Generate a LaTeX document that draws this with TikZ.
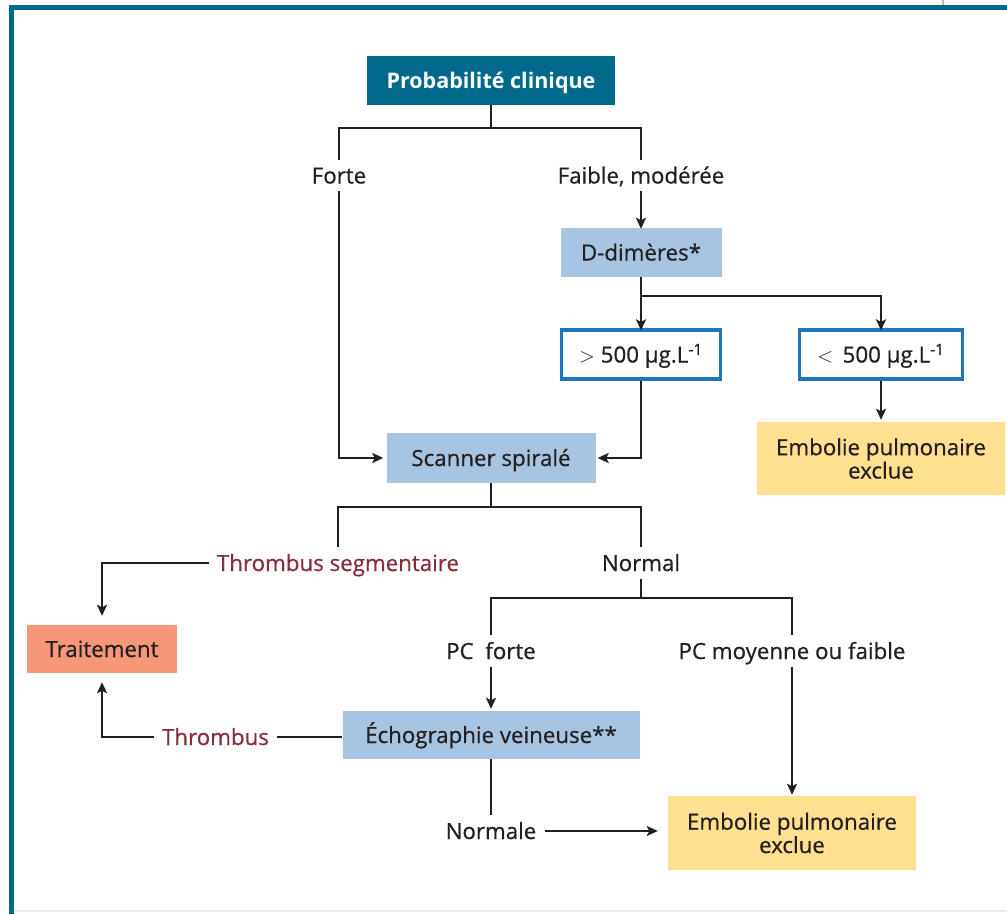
\documentclass[tikz,border=0pt]{standalone}
\usepackage{fontspec}
\setmainfont{Open Sans}
\newfontface\medface{Open Sans}[FakeBold=0.6]
\usetikzlibrary{arrows.meta}

\definecolor{frameteal}{HTML}{00698C}
\definecolor{headteal}{HTML}{00698C}
\definecolor{stepblue}{HTML}{A7C5E2}
\definecolor{resultyellow}{HTML}{FEE090}
\definecolor{treatsalmon}{HTML}{F7977A}
\definecolor{rangeblue}{HTML}{1D76BB}
\definecolor{alertred}{HTML}{862D3C}
\definecolor{ink}{HTML}{231F20}
\definecolor{tanline}{HTML}{C8BFA0}

\tikzset{
  base/.style={font=\fontsize{22.3}{24}\selectfont\medface, text=ink, inner sep=0pt,
               text height=16pt, text depth=0pt},
  head/.style={base, fill=headteal, text=white, font=\fontsize{21.5}{24}\selectfont\bfseries},
  stepbox/.style={base, fill=stepblue},
  rangebox/.style={base, fill=white, draw=rangeblue, line width=3.3pt},
  resultbox/.style={font=\fontsize{22.3}{20.5}\selectfont\medface, text=ink, inner sep=0pt,
               fill=resultyellow, align=center},
  treatbox/.style={base, fill=treatsalmon},
  lbl/.style={base, inner xsep=8pt, inner ysep=7.5pt},
  redlbl/.style={lbl, text=alertred},
  link/.style={draw=ink, line width=2.7pt},
  arr/.style={link, -{Stealth[length=11pt,width=10pt,inset=2.5pt]}},
}

\begin{document}
\begin{tikzpicture}[x=1pt, y=-1pt]
\useasboundingbox (0,0) rectangle (1007,914);

% frame
\fill[frameteal] (9,5) rectangle (1007,10);
\fill[frameteal] (9,5) rectangle (13.5,914);
\draw[black!8, line width=1.2pt] (13.5,911) -- (1007,911);
\draw[tanline, line width=1.2pt] (943,0) -- (943,5);

% boxes
\node[head, minimum width=248pt, minimum height=49pt] (prob) at (491,80) {Probabilité clinique};
\node[stepbox, minimum width=161pt, minimum height=49pt] (ddim) at (641,252.5) {D-dimères*};
\node[rangebox, minimum width=159pt, minimum height=49pt] (gt) at (641,354.5)
  {$>$ 500 µg.L\textsuperscript{-1}};
\node[rangebox, minimum width=163pt, minimum height=49pt] (lt) at (881,354.5)
  {$<$\, 500 µg.L\textsuperscript{-1}};
\node[resultbox, minimum width=248pt, minimum height=73pt] (emb1) at (881,458.5)
  {Embolie pulmonaire\\exclue};
\node[stepbox, minimum width=209pt, minimum height=50pt] (scan) at (491,458) {Scanner spiralé};
\node[treatbox, minimum width=150pt, minimum height=48pt] (trait) at (102,649) {Traitement};
\node[stepbox, minimum width=297pt, minimum height=48pt] (echo) at (491,735) {Échographie veineuse**};
\node[resultbox, minimum width=248pt, minimum height=74pt] (emb2) at (792,833)
  {Embolie pulmonaire\\exclue};

% branch labels
\node[lbl] (forte) at (339,175.5) {Forte};
\node[lbl] (faible) at (641,175.5) {Faible, modérée};
\node[redlbl] (thseg) at (338,563) {Thrombus segmentaire};
\node[lbl] (normal) at (641,563) {Normal};
\node[lbl] (pcf) at (491,651) {PC\ \ forte};
\node[lbl] (pcm) at (792,651) {PC moyenne ou faible};
\node[redlbl] (thromb) at (215.5,737) {Thrombus};
\node[lbl] (normale) at (491,831) {Normale};

% junctions
\coordinate (j1) at (491,128);
\coordinate (j2) at (641,296);
\coordinate (j3) at (491,507);
\coordinate (j4) at (641,598);

% connectors
\draw[link] (prob.south) -- (j1);
\draw[link] (forte.north) |- (j1) -| (faible.north);
\draw[arr] (forte.south) |- ([xshift=-3pt]scan.west);
\draw[arr] (faible.south) -- ([yshift=-1pt]ddim.north);

\draw[link] (ddim.south) -- (j2);
\draw[arr] (j2) -- ([yshift=-2pt]gt.north);
\draw[arr] (j2) -| ([yshift=-2pt]lt.north);
\draw[arr] (gt.south) |- ([xshift=2pt]scan.east);
\draw[arr, shorten >=2pt] (lt.south) -- (emb1.north);

\draw[link] (scan.south) -- (j3);
\draw[link] (thseg.north) |- (j3) -| (normal.north);
\draw[arr, shorten >=9pt] (thseg.west) -| (trait.north);

\draw[link] (normal.south) -- (j4);
\draw[link] (pcf.north) |- (j4) -| (pcm.north);
\draw[arr, shorten >=2pt] (pcf.south) -- (echo.north);
\draw[arr, shorten >=1pt] (pcm.south) -- (emb2.north);

\draw[link] (thromb.east) -- (thromb.east -| echo.west);
\draw[arr, shorten >=9pt] (thromb.west) -| (trait.south);
\draw[link] (echo.south) -- (normale.north);
\draw[arr, shorten >=10pt] (normale.east) -- (normale.east -| emb2.west);
\end{tikzpicture}
\end{document}
